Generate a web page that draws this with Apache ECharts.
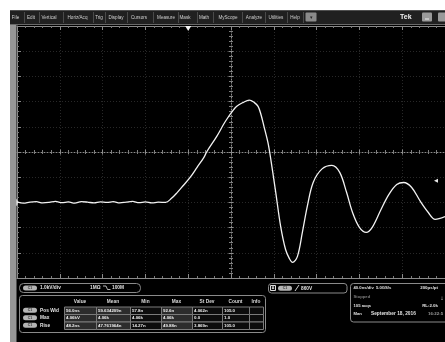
<!DOCTYPE html>
<html>
<head>
<meta charset="utf-8">
<script src="https://cdn.jsdelivr.net/npm/echarts@6/dist/echarts.min.js"></script>
<style>
html, body { margin: 0; padding: 0; background: #fff; }
#scope { width: 445px; height: 342px; }
</style>
</head>
<body>
<div id="scope"></div>
<script>
// Captured waveform: time (ns, 0 = screen centre) and amplitude (kV, 0 = ground)
const traceTimeNs = [
  -200, -194, -188, -182, -176, -170, -164, -158, -152, -146, -140, -134,
  -128, -122, -116, -110, -104, -98, -92, -86, -80, -74, -68, -61.1,
  -55.6, -50.1, -44.6, -38.2, -31.7, -25.3, -22.5, -13.3, -6.9, -4.1, 0.5,
  5.1, 11.5, 17.0, 21.6, 25.3, 28.0, 30.8, 34.5, 37.2, 41.8, 46.4, 51.0,
  54.5, 57.5, 62.1, 66.7, 71.3, 76.8, 85.1, 94.3, 101.6, 108.0, 113.6,
  120.0, 126.4, 132.0, 140.2, 147.6, 154.9, 161.4, 168.7, 177.0, 184.4,
  190.8, 200
];
const traceKV = [
  0.02, -0.03, 0.01, 0.03, -0.02, 0.00, 0.04, -0.01, 0.02, -0.03, 0.03, 0.01,
  -0.02, 0.02, 0.00, 0.03, -0.02, 0.01, 0.04, -0.01, 0.02, -0.02, 0.01, 0.00,
  0.16, 0.40, 0.67, 0.99, 1.39, 1.79, 2.02, 2.62, 3.10, 3.29, 3.57,
  3.81, 3.97, 4.06, 3.97, 3.81, 3.49, 3.02, 2.38, 1.71, 0.40, -0.95, -1.87,
  -2.22, -2.38, -2.14, -1.19, -0.16, 0.79, 1.33, 1.47, 1.19, 0.40, -0.40,
  -0.99, -1.19, -0.99, -0.28, 0.32, 0.71, 0.79, 0.60, 0.04, -0.40,
  -0.67, -0.56
];

// Trigger settings
const triggerTimeNs = -40;
const triggerLevelKV = 0.86;

// Menu bar
const menuItems = ['File', 'Edit', 'Vertical', 'Horiz/Acq', 'Trig', 'Display', 'Cursors',
  'Measure', 'Mask', 'Math', 'MyScope', 'Analyze', 'Utilities', 'Help'];
const menuCenters = [15.5, 31, 49, 77.5, 99, 116, 139, 166, 185, 204, 228, 254, 276, 295];
const menuSeparators = [24, 39, 63, 93, 105, 127, 153, 178, 197, 213, 242, 265, 287, 303];

// Channel / trigger / timebase readouts
const channelScale = '1.0kV/div';
const channelCoupling = '1MΩ';
const channelBandwidth = '100M';
const triggerReadout = '860V';
const timebaseLines = [
  ['40.0ns/div', '5.0GS/s', '200ps/pt'],
  ['Stopped', '', ''],
  ['105 acqs', '', 'RL:2.0k'],
  ['Man', 'September 18, 2016', '16:22:5']
];

// Measurement table
const tableHeader = ['Value', 'Mean', 'Min', 'Max', 'St Dev', 'Count', 'Info'];
const measNames = ['Pos Wid', 'Max', 'Rise'];
const measRows = [
  ['56.0ns', '59.634209n', '57.8n', '92.6n', '4.062n', '105.0', ''],
  ['4.06kV', '4.06k', '4.06k', '4.06k', '0.0', '1.0', ''],
  ['48.2ns', '47.761964n', '14.27n', '49.88n', '3.869n', '105.0', '']
];

const FONT = '"Liberation Sans", Arial, sans-serif';
const traceData = traceTimeNs.map((t, i) => [t, traceKV[i]]);

function txt(x, y, text, size, fill, align, bold) {
  return {
    type: 'text', x: x, y: y, silent: true, z: 10,
    style: {
      text: text, fill: fill || '#ddd',
      font: (bold ? 'bold ' : '') + size + 'px ' + FONT,
      textAlign: align || 'left', textVerticalAlign: 'middle'
    }
  };
}
function rect(x, y, w, h, fill, stroke, r) {
  return {
    type: 'rect', silent: true, z: 9,
    shape: { x: x, y: y, width: w, height: h, r: r || 0 },
    style: { fill: fill || 'none', stroke: stroke || null, lineWidth: 1 }
  };
}
function line(x1, y1, x2, y2, stroke, w) {
  return {
    type: 'line', silent: true, z: 10,
    shape: { x1: x1, y1: y1, x2: x2, y2: y2 },
    style: { stroke: stroke, lineWidth: w || 1 }
  };
}
function badge(x, y) {
  return [
    rect(x, y, 14, 5, '#b4b4b4', null, 2.5),
    txt(x + 7, y + 2.6, 'C1', 3.5, '#333', 'center', true)
  ];
}

const g = [];
// page margins and menu bar
g.push(rect(0, 0, 445, 10.5, '#fff'));
g.push(rect(0, 0, 10, 342, '#fff'));
g.push(rect(10, 10.5, 435, 13.5, '#202020'));
g.push(line(10, 24.5, 445, 24.5, '#6a6a6a'));
menuItems.forEach((m, i) => g.push(txt(menuCenters[i], 17.5, m, 4.6, '#cfcfcf', 'center')));
menuSeparators.forEach(x => g.push(line(x + 0.5, 12, x + 0.5, 23, '#4a4a4a')));
g.push(rect(305.5, 12.5, 11, 9, '#8a8a8a', null, 1));
g.push(txt(311, 17.5, '▾', 5, '#222', 'center'));
g.push(txt(400, 17.5, 'Tek', 7, '#f2f2f2', 'left', true));
g.push(rect(422, 12.5, 10, 9, '#9a9a9a', null, 1));
g.push(line(425, 19, 429, 19, '#eee'));
g.push(rect(438, 12.5, 10, 9, '#9a9a9a', null, 1));

// left screen edge
g.push(rect(10, 24.5, 6.5, 318, '#969696'));

// channel readout
g.push(rect(19.5, 283.5, 121, 9, null, '#8a8a8a', 4));
g.push(...badge(23, 285.5));
g.push(txt(40, 288, channelScale, 4.8, '#e0e0e0', 'left', true));
g.push(txt(90, 288, channelCoupling, 4.8, '#e0e0e0', 'left', true));
g.push({
  type: 'polyline', silent: true, z: 10,
  shape: { points: [[103, 286], [106, 286], [107.5, 289.5], [110.5, 289.5]] },
  style: { stroke: '#e0e0e0', lineWidth: 0.8, fill: 'none' }
});
g.push(txt(112, 288, channelBandwidth, 4.8, '#e0e0e0', 'left', true));

// measurement table
const colX = [64, 96, 130, 161, 192, 222, 249, 263];
const rowTop = [306.5, 314, 321.5];
const rowH = 7.5;
const shadedCols = [0, 1, 3];
g.push(rect(19.5, 295.5, 246, 37, null, '#8a8a8a', 3));
tableHeader.forEach((h, c) => g.push(txt((colX[c] + colX[c + 1]) / 2, 302, h, 4.8, '#d8d8d8', 'center', true)));
measRows.forEach((row, r) => {
  g.push(...badge(23, rowTop[r] + 1.3));
  g.push(txt(40, rowTop[r] + rowH / 2, measNames[r], 4.8, '#e0e0e0', 'left', true));
  row.forEach((v, c) => {
    const fill = shadedCols.indexOf(c) >= 0 ? '#2c2c2c' : '#0c0c0c';
    g.push(rect(colX[c] + 0.5, rowTop[r] + 0.5, colX[c + 1] - colX[c], rowH, fill, '#7a7a7a'));
    if (v) g.push(txt(colX[c] + 2, rowTop[r] + rowH / 2 + 0.5, v, 4.4, '#ececec', 'left', true));
  });
});

// trigger readout
g.push(rect(268.5, 283.5, 78.5, 9.5, null, '#8a8a8a', 3));
g.push(rect(270.5, 285.5, 5, 5, '#111', '#dcdcdc'));
g.push(txt(273, 288.3, 'A', 3.5, '#eee', 'center', true));
g.push(...badge(278, 285.8));
g.push(line(295, 291, 299, 285, '#e8e8e8', 0.9));
g.push(txt(301, 288.3, triggerReadout, 4.8, '#e0e0e0', 'left', true));

// timebase / acquisition readout
g.push(rect(350.5, 283.5, 100, 38.5, null, '#8a8a8a', 3));
const tbY = [287.5, 297, 305.5, 314];
const tbX = [353.5, 376, 438];
timebaseLines.forEach((ln, i) => {
  const col = i === 1 ? '#7c7c7c' : '#e0e0e0';
  if (ln[0]) g.push(txt(tbX[0], tbY[i], ln[0], 4.2, col, 'left', true));
  if (ln[1]) g.push(txt(i === 3 ? 371 : tbX[1], tbY[i], ln[1], i === 3 ? 4.8 : 4.2, col, 'left', true));
  if (ln[2]) g.push(txt(i === 3 ? 428 : tbX[2], tbY[i], ln[2], 4.4, i === 3 ? '#9a9a9a' : col, i === 3 ? 'left' : 'right', true));
});
g.push(txt(442, 298.5, '↓', 6, '#e8e8e8', 'center', true));

// graticule styling
const edgeAxis = {
  show: true,
  axisLabel: { show: false },
  axisLine: { onZero: false, lineStyle: { color: '#8a8a8a', width: 1 } },
  axisTick: { show: true, inside: true, length: 4, lineStyle: { color: '#8a8a8a' } },
  minorTick: { show: true, splitNumber: 5, length: 2, lineStyle: { color: '#7a7a7a' } },
  splitLine: { show: false }
};
const gridLines = { show: true, lineStyle: { color: '#282828', type: [1, 2], width: 1 } };
const centreAxis = (inside, showLine) => ({
  show: true,
  axisLabel: { show: false },
  axisLine: { show: showLine, onZero: true, lineStyle: { color: '#8c8c8c', type: [1, 2], width: 1 } },
  axisTick: { show: true, inside: inside, length: 2.5, lineStyle: { color: '#8c8c8c' } },
  minorTick: { show: true, splitNumber: 5, length: 2, lineStyle: { color: '#7e7e7e' } },
  splitLine: { show: false }
});

const xRange = { type: 'value', min: -200, max: 200, interval: 40 };
const yCentre = { type: 'value', min: -5, max: 5, interval: 1 };

const option = {
  animation: false,
  backgroundColor: '#000',
  grid: { left: 17, top: 26, right: -7, bottom: 64, containLabel: false },
  xAxis: [
    Object.assign({}, xRange, edgeAxis, { position: 'bottom', splitLine: gridLines }),
    Object.assign({}, xRange, edgeAxis, { position: 'top' }),
    Object.assign({}, xRange, centreAxis(true, true), { position: 'bottom', axisLine: Object.assign({}, centreAxis(true, true).axisLine, { onZeroAxisIndex: 1 }) }),
    Object.assign({}, xRange, centreAxis(false, false), { position: 'bottom', axisLine: Object.assign({}, centreAxis(false, false).axisLine, { onZeroAxisIndex: 1 }) })
  ],
  yAxis: [
    Object.assign({ type: 'value', min: -3, max: 7, interval: 1 }, edgeAxis, { position: 'left', splitLine: gridLines }),
    Object.assign({}, yCentre, { show: false, axisLine: { show: false }, splitLine: { show: false } }),
    Object.assign({}, yCentre, centreAxis(true, true), { position: 'left', axisLine: Object.assign({}, centreAxis(true, true).axisLine, { onZeroAxisIndex: 0 }) }),
    Object.assign({}, yCentre, centreAxis(false, false), { position: 'left', axisLine: Object.assign({}, centreAxis(false, false).axisLine, { onZeroAxisIndex: 0 }) })
  ],
  graphic: { elements: g },
  series: [{
    type: 'line',
    name: 'C1',
    xAxisIndex: 0,
    yAxisIndex: 0,
    data: traceData,
    showSymbol: false,
    smooth: 0.35,
    clip: true,
    z: 5,
    lineStyle: { color: '#f2f2f2', width: 1.3 },
    markPoint: {
      silent: true,
      animation: false,
      label: { show: false },
      data: [
        { coord: [triggerTimeNs, 7], symbol: 'triangle', symbolRotate: 180, symbolSize: [6, 5], symbolOffset: [0, 2.5], itemStyle: { color: '#f4f4f4' } },
        { coord: [-200, 0], symbol: 'circle', symbolSize: 8, symbolOffset: [-3, 0], itemStyle: { color: '#f0f0f0', borderColor: '#999', borderWidth: 0.5 },
          label: { show: true, formatter: '1', color: '#333', fontSize: 5, fontWeight: 'bold', position: 'inside' } },
        { coord: [200, triggerLevelKV], symbol: 'triangle', symbolRotate: 90, symbolSize: [4, 4], symbolOffset: [-9, 0], itemStyle: { color: '#e8e8e8' } }
      ]
    }
  }]
};

const chart = echarts.init(document.getElementById('scope'));
chart.setOption(option);
</script>
</body>
</html>
